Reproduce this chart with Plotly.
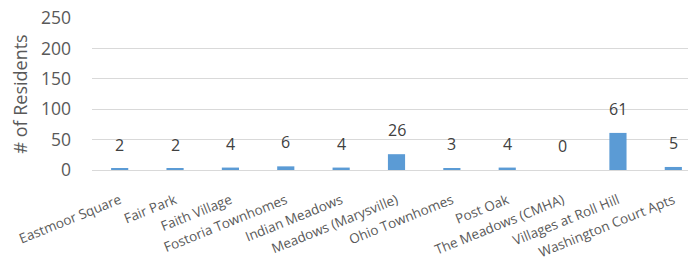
import plotly.graph_objects as go

categories = ["Eastmoor Square", "Fair Park", "Faith Village", "Fostoria Townhomes",
              "Indian Meadows", "Meadows (Marysville)", "Ohio Townhomes", "Post Oak",
              "The Meadows (CMHA)", "Villages at Roll Hill", "Washington Court Apts"]
residents = [2, 2, 4, 6, 4, 26, 3, 4, 0, 61, 5]
y_ticks = [0, 50, 100, 150, 200, 250]

FONT = "Open Sans"
GRAY = "#595959"

fig = go.Figure(go.Bar(
    x=categories, y=residents, width=0.31,
    marker=dict(color="#5B9BD5", line=dict(width=0)),
    cliponaxis=False, hoverinfo="x+y",
))

for c, v in zip(categories, residents):
    fig.add_annotation(x=c, y=v, text=str(v), showarrow=False, yanchor="bottom",
                       yshift=11, font=dict(family=FONT, size=16, color="#404040"))

fig.update_layout(
    width=696, height=262,
    margin=dict(l=84, r=3, t=10, b=100),
    paper_bgcolor="white", plot_bgcolor="white",
    showlegend=False,
    font=dict(family=FONT, color=GRAY),
    xaxis=dict(range=[-0.5, 10.5], tickangle=-22, showgrid=False, showline=False,
               tickfont=dict(size=13.5, color=GRAY), ticks="", ticklabelstandoff=19,
               ticklabeloverflow="allow", automargin=False),
    yaxis=dict(range=[0, 250], tickvals=y_ticks, showgrid=True, gridcolor="#D9D9D9",
               gridwidth=1, zeroline=True, zerolinecolor="#D9D9D9", zerolinewidth=1,
               showline=False, tickfont=dict(size=17.5, color=GRAY), ticklabelstandoff=20,
               ticklabeloverflow="allow",
               title=dict(text="# of Residents", font=dict(size=18, color=GRAY), standoff=14),
               automargin=False),
)

fig.write_html("out.html")
